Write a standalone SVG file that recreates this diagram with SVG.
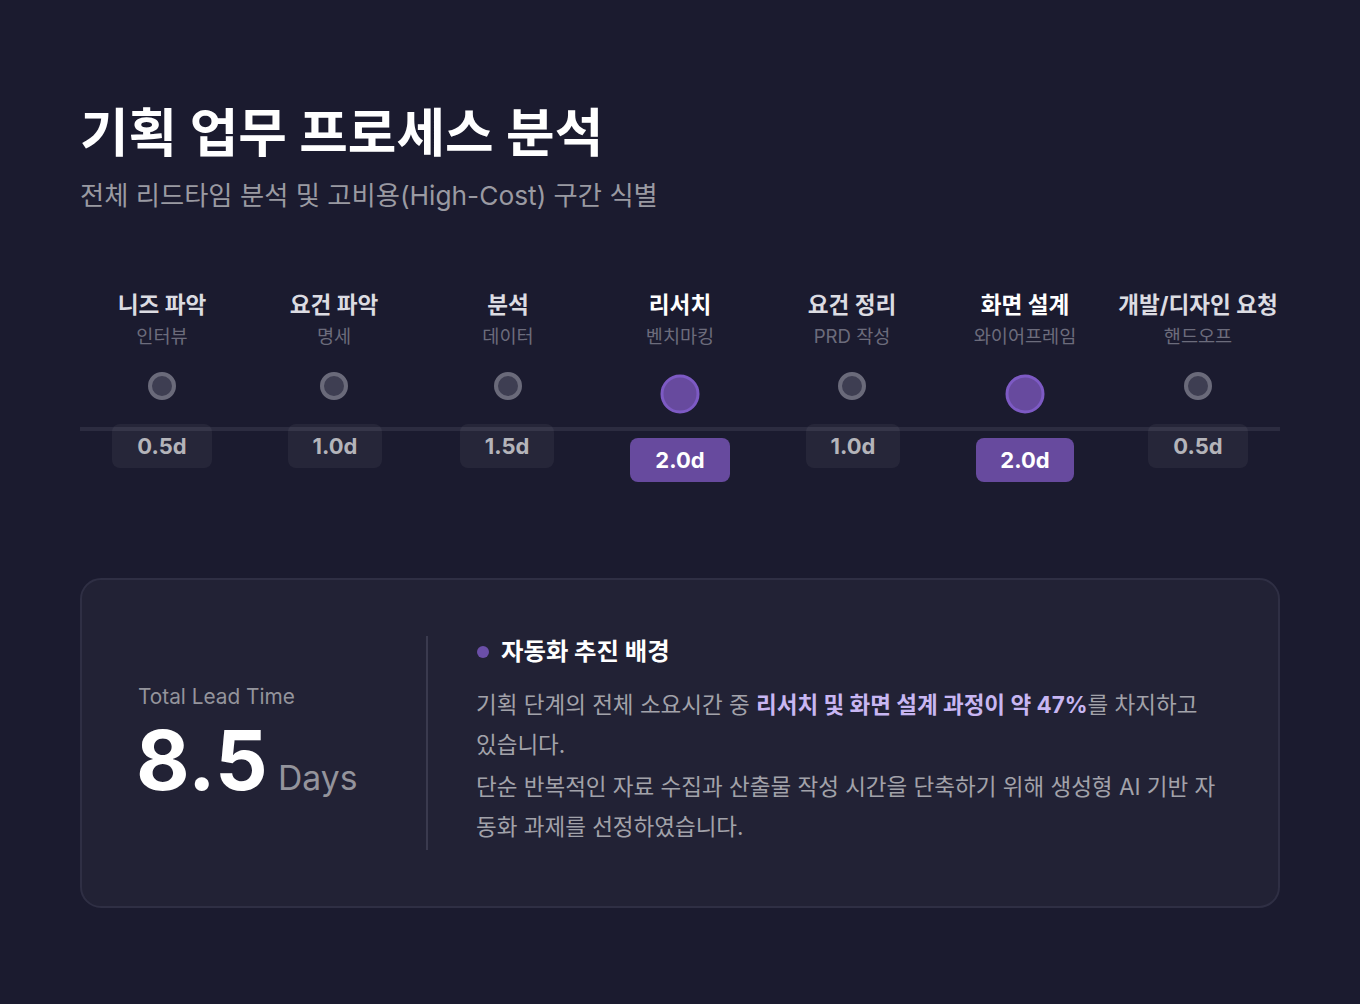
<svg xmlns="http://www.w3.org/2000/svg" width="1360" height="1004" viewBox="0 0 1360 1004">
<defs>
<style>
text{font-family:"Inter","Noto Sans CJK KR","Noto Sans",sans-serif;}
.title{font-size:52.8px;font-weight:700;fill:#ffffff;}
.sub{font-size:26.3px;fill:#9a9aa2;}
.st{font-size:22.6px;font-weight:700;fill:#dcdce2;text-anchor:middle;}
.st.hi{fill:#ffffff;}
.ss{font-size:18.6px;fill:#6c6c7c;text-anchor:middle;}
.dot{fill:#3e3e52;stroke:#6a6a7a;stroke-width:4;}
.dot.hi{fill:#674a9e;stroke:#7d5ac4;stroke-width:3;}
.badge{fill:#ffffff;fill-opacity:0.05;}
.badge.hi{fill:#674a9e;fill-opacity:1;}
.bt{font-size:22px;font-weight:700;fill:#b4b4ba;text-anchor:middle;}
.bt.hi{fill:#ffffff;}
.para{font-size:22.5px;fill:#a2a2aa;}
.em{font-weight:700;fill:#c8b6f2;}
</style>
</defs>
<rect width="1360" height="1004" fill="#1b1b2f"/>
<text class="title" x="80" y="152">기획 업무 프로세스 분석</text>
<text class="sub" x="80" y="205">전체 리드타임 분석 및 고비용(High-Cost) 구간 식별</text>

<g id="connectors">
<rect x="80" y="427" width="1200" height="4" fill="#2c2c40"/>
</g>

<g id="step1">
<text class="st" x="162" y="313">니즈 파악</text>
<text class="ss" x="162" y="343">인터뷰</text>
<circle class="dot" cx="162" cy="386" r="12"/>
<rect class="badge" x="112" y="424" width="100" height="44" rx="8"/>
<text class="bt" x="162" y="454">0.5d</text>
</g>
<g id="step2">
<text class="st" x="334" y="313">요건 파악</text>
<text class="ss" x="334" y="343">명세</text>
<circle class="dot" cx="334" cy="386" r="12"/>
<rect class="badge" x="288" y="424" width="94" height="44" rx="8"/>
<text class="bt" x="335" y="454">1.0d</text>
</g>
<g id="step3">
<text class="st" x="508" y="313">분석</text>
<text class="ss" x="508" y="343">데이터</text>
<circle class="dot" cx="508" cy="386" r="12"/>
<rect class="badge" x="460" y="424" width="94" height="44" rx="8"/>
<text class="bt" x="507" y="454">1.5d</text>
</g>
<g id="step4">
<text class="st hi" x="680" y="313">리서치</text>
<text class="ss" x="680" y="343">벤치마킹</text>
<circle class="dot hi" cx="680" cy="394" r="18"/>
<rect class="badge hi" x="630" y="438" width="100" height="44" rx="8"/>
<text class="bt hi" x="680" y="468">2.0d</text>
</g>
<g id="step5">
<text class="st" x="852" y="313">요건 정리</text>
<text class="ss" x="852" y="343">PRD 작성</text>
<circle class="dot" cx="852" cy="386" r="12"/>
<rect class="badge" x="806" y="424" width="94" height="44" rx="8"/>
<text class="bt" x="853" y="454">1.0d</text>
</g>
<g id="step6">
<text class="st hi" x="1025" y="313">화면 설계</text>
<text class="ss" x="1025" y="343">와이어프레임</text>
<circle class="dot hi" cx="1025" cy="394" r="18"/>
<rect class="badge hi" x="976" y="438" width="98" height="44" rx="8"/>
<text class="bt hi" x="1025" y="468">2.0d</text>
</g>
<g id="step7">
<text class="st" x="1198" y="313">개발/디자인 요청</text>
<text class="ss" x="1198" y="343">핸드오프</text>
<circle class="dot" cx="1198" cy="386" r="12"/>
<rect class="badge" x="1148" y="424" width="100" height="44" rx="8"/>
<text class="bt" x="1198" y="454">0.5d</text>
</g>

<g id="summary">
<rect x="81" y="579" width="1198" height="328" rx="20" fill="#222235" stroke="#2f2f44" stroke-width="2"/>
<text x="138" y="704" font-size="20.8" fill="#94949c">Total Lead Time</text>
<text x="136" y="790" font-size="82.5" font-weight="700" fill="#ffffff">8.5</text>
<text x="278" y="790" font-size="33.7" fill="#94949c">Days</text>
<line x1="427" y1="636" x2="427" y2="850" stroke="#3a3a4e" stroke-width="2"/>
<circle cx="483" cy="652" r="6" fill="#6b4fa8"/>
<text x="501" y="660" font-size="24.4" font-weight="700" fill="#ffffff">자동화 추진 배경</text>
<text class="para" x="476" y="713">기획 단계의 전체 소요시간 중 <tspan class="em">리서치 및 화면 설계 과정이 약 47%</tspan>를 차지하고</text>
<text class="para" x="476" y="753">있습니다.</text>
<text class="para" x="476" y="795">단순 반복적인 자료 수집과 산출물 작성 시간을 단축하기 위해 생성형 AI 기반 자</text>
<text class="para" x="476" y="835">동화 과제를 선정하였습니다.</text>
</g>
</svg>
